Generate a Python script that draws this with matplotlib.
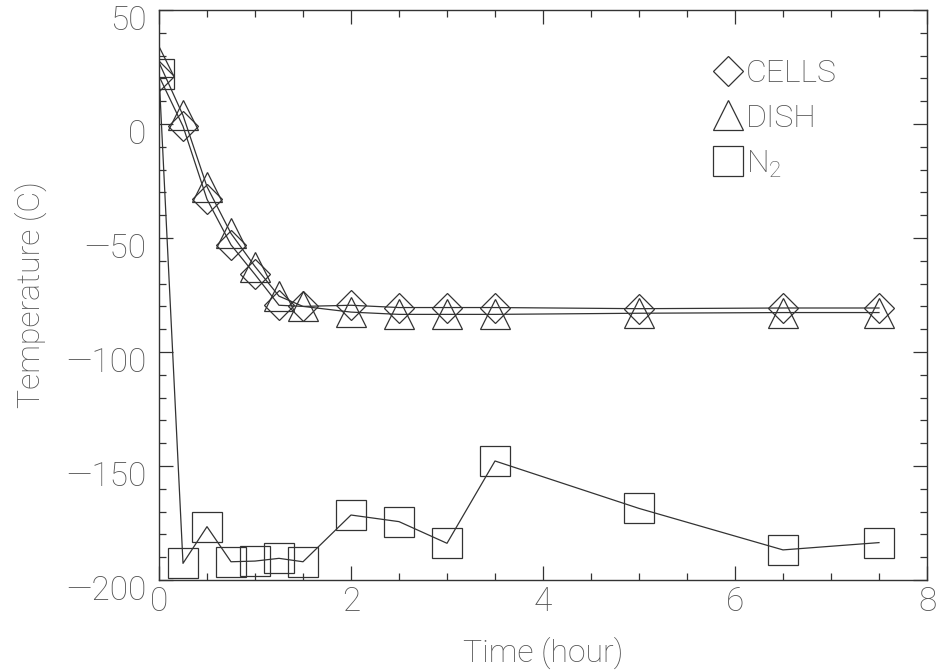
import matplotlib
matplotlib.use("Agg")
import matplotlib.pyplot as plt
import matplotlib.transforms as mtransforms
from matplotlib.ticker import MultipleLocator

time_h = [0.0, 0.25, 0.5, 0.75, 1.0, 1.25, 1.5, 2.0, 2.5, 3.0, 3.5, 5.0, 6.5, 7.5]
cells = [21, -1, -33, -53, -66, -79.5, -80, -79.5, -80.5, -80.5, -80.5, -81, -80.7, -80.7]
dish = [27, 3.8, -27.5, -48, -62.5, -75.5, -80, -82.5, -83.5, -83.5, -83.5, -83, -82.7, -82.7]
n2 = [22, -192.7, -176.6, -192, -191.7, -190.5, -192, -171.5, -174.4, -183.9, -147.8, -168.6, -186.8, -183.6]

labels = ["CELLS", "DISH", "N$_2$"]
xticks = [0, 2, 4, 6, 8]
yticks = [50, 0, -50, -100, -150, -200]

plt.rcParams['font.family'] = ['Roboto', 'DejaVu Sans']
plt.rcParams['font.weight'] = 'light'
plt.rcParams['axes.labelweight'] = 'light'
plt.rcParams['mathtext.fontset'] = 'custom'
plt.rcParams['mathtext.rm'] = 'Roboto:light'
plt.rcParams['mathtext.default'] = 'rm'
text_color = '#555555'
line_color = '#333333'
fs_tick = 24
fs_lab = 23

fig = plt.figure(figsize=(9.4, 6.72), dpi=100)
ax = fig.add_axes([159/940, 1-580/672, (927-159)/940, (580-10)/672])

mk = dict(color=line_color, lw=0.9, markerfacecolor='none', markeredgecolor=line_color, markeredgewidth=0.9)
ax.plot(time_h, cells, marker='D', markersize=15.5, label=labels[0], **mk)
ax.plot(time_h, dish, marker='^', markersize=21, label=labels[1], **mk)
ax.plot(time_h, n2, marker='s', markersize=21, label=labels[2], **mk)

ax.set_xlim(0, 8)
ax.set_ylim(-200, 50)
ax.set_xticks(xticks)
ax.set_yticks(yticks)
ax.set_xticklabels([str(v) for v in xticks])
ax.set_yticklabels([str(v).replace('-', '\u2014') for v in yticks])
ax.xaxis.set_minor_locator(MultipleLocator(0.5))
ax.yaxis.set_minor_locator(MultipleLocator(10))
ax.tick_params(which='both', direction='in', top=True, right=True, colors=line_color,
               labelcolor=text_color, labelsize=fs_tick, width=0.9)
ax.tick_params(which='major', length=10)
ax.tick_params(which='minor', length=5)
ax.tick_params(axis='x', which='major', pad=4)
ax.tick_params(axis='y', which='major', pad=9)
for sp in ax.spines.values():
    sp.set_color(line_color)
    sp.set_linewidth(1.0)

offset = mtransforms.ScaledTranslation(0, -7/100, fig.dpi_scale_trans)
for tick in ax.yaxis.get_major_ticks():
    tick.label1.set_transform(tick.label1.get_transform() + offset)

ax.set_xlabel("Time (hour)", fontsize=fs_lab, color=text_color, labelpad=14, fontweight='light')
ax.set_ylabel("Temperature (C)", fontsize=fs_lab, color=text_color, labelpad=14, fontweight='light')

handles, labs = ax.get_legend_handles_labels()
leg = ax.legend(handles, labs, loc='upper left', bbox_to_anchor=(0.683, 0.965), frameon=False,
                handlelength=1.0, handletextpad=0.05, labelspacing=0.5, fontsize=fs_lab,
                labelcolor=text_color)
for h in leg.legend_handles:
    h.set_linestyle('none')

fig.savefig("out.png", dpi=100)
